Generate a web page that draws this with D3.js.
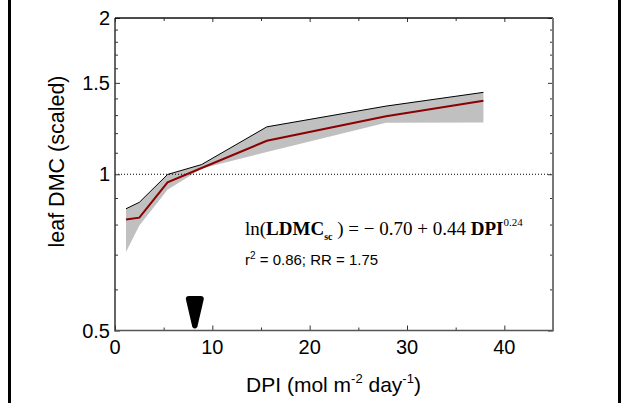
<!DOCTYPE html>
<html><head><meta charset="utf-8">
<script src="https://cdn.jsdelivr.net/npm/d3@7"></script>
<style>body{margin:0;background:#fff}svg{display:block}</style>
</head><body>
<svg id="c" width="622" height="403"></svg>
<script>
// Data
const dpi   = [1.13, 2.5, 5.4, 8.9, 15.6, 27.85, 37.85];
const fit   = [0.818, 0.825, 0.965, 1.028, 1.16, 1.294, 1.385];
const upper = [0.858, 0.883, 0.999, 1.044, 1.234, 1.353, 1.438];
const lower = [0.708, 0.797, 0.934, 1.026, 1.104, 1.256, 1.258];
const markerDPI = [8.2];
const xTicks = [0, 10, 20, 30, 40];
const xMinor = [5, 15, 25, 35, 45];
const yTicks = [0.5, 1, 1.5, 2];
const yMinor = [0.6, 0.7, 0.8, 0.9, 1.1, 1.2, 1.3, 1.4, 1.6, 1.7, 1.8, 1.9];

const svg = d3.select("#c");
const L = 115, R = 553, T = 18, B = 330.5;
const x = d3.scaleLinear().domain([0, 45]).range([L, R]);
const y = d3.scaleLog().domain([0.5, 2]).range([B, T]);
const sans = "'Liberation Sans', Arial, sans-serif";
const serif = "'Liberation Serif', 'Times New Roman', serif";

// outer frame lines
svg.append("line").attr("x1", 9.5).attr("x2", 9.5).attr("y1", 0).attr("y2", 403).attr("stroke", "#000").attr("stroke-width", 3);
svg.append("line").attr("x1", 619.5).attr("x2", 619.5).attr("y1", 0).attr("y2", 403).attr("stroke", "#000").attr("stroke-width", 3);

const pts = dpi.map((d, i) => ({x: d, f: fit[i], u: upper[i], l: lower[i]}));

// band
svg.append("path").datum(pts)
  .attr("d", d3.area().x(d => x(d.x)).y0(d => y(d.l)).y1(d => y(d.u)))
  .attr("fill", "#c0c0c0");
// upper line
svg.append("path").datum(pts)
  .attr("d", d3.line().x(d => x(d.x)).y(d => y(d.u)))
  .attr("fill", "none").attr("stroke", "#000").attr("stroke-width", 1);
// dotted reference line at 1
svg.append("line").attr("x1", L).attr("x2", R).attr("y1", y(1)).attr("y2", y(1))
  .attr("stroke", "#000").attr("stroke-width", 1).attr("stroke-dasharray", "1,2");
// fit line
svg.append("path").datum(pts)
  .attr("d", d3.line().x(d => x(d.x)).y(d => y(d.f)))
  .attr("fill", "none").attr("stroke", "#8b0000").attr("stroke-width", 2);

// axes (ticks inward)
const axL = svg.append("g").attr("transform", `translate(${L},0)`)
  .call(d3.axisRight(y).tickValues(yTicks).tickSize(5).tickFormat(""));
const axLm = svg.append("g").attr("transform", `translate(${L},0)`)
  .call(d3.axisRight(y).tickValues(yMinor).tickSize(3).tickFormat(""));
const axR = svg.append("g").attr("transform", `translate(${R},0)`)
  .call(d3.axisLeft(y).tickValues(yTicks).tickSize(5).tickFormat(""));
const axRm = svg.append("g").attr("transform", `translate(${R},0)`)
  .call(d3.axisLeft(y).tickValues(yMinor).tickSize(3).tickFormat(""));
const axB = svg.append("g").attr("transform", `translate(0,${B})`)
  .call(d3.axisTop(x).tickValues(xTicks).tickSize(5).tickFormat(""));
const axBm = svg.append("g").attr("transform", `translate(0,${B})`)
  .call(d3.axisTop(x).tickValues(xMinor).tickSize(3).tickFormat(""));
const axT = svg.append("g").attr("transform", `translate(0,${T})`)
  .call(d3.axisBottom(x).tickValues(xTicks).tickSize(4).tickFormat(""));
const axTm = svg.append("g").attr("transform", `translate(0,${T})`)
  .call(d3.axisBottom(x).tickValues(xMinor).tickSize(3).tickFormat(""));
svg.selectAll(".tick line").attr("stroke", "#333");
svg.selectAll("path.domain").remove();
svg.append("line").attr("x1", L).attr("x2", L).attr("y1", T).attr("y2", B + 1).attr("stroke", "#333").attr("stroke-width", 1.5);
svg.append("line").attr("x1", L).attr("x2", R).attr("y1", T).attr("y2", T).attr("stroke", "#111").attr("stroke-width", 1.5);
svg.append("line").attr("x1", L).attr("x2", R + 1).attr("y1", B).attr("y2", B).attr("stroke", "#555").attr("stroke-width", 1.5);
svg.append("line").attr("x1", R).attr("x2", R).attr("y1", T).attr("y2", B).attr("stroke", "#777").attr("stroke-width", 2);

// tick labels
svg.append("g").selectAll("text").data(yTicks).join("text")
  .attr("x", L - 5).attr("y", d => y(d) + 7).attr("text-anchor", "end")
  .attr("font-family", sans).attr("font-size", 20).text(d => d);
svg.append("g").selectAll("text").data(xTicks).join("text")
  .attr("x", d => x(d)).attr("y", B + 23.5).attr("text-anchor", "middle")
  .attr("font-family", sans).attr("font-size", 20).text(d => d);

// axis titles
svg.append("text").attr("transform", `translate(64,161.5) rotate(-90)`)
  .attr("text-anchor", "middle").attr("font-family", sans).attr("font-size", 21.5)
  .text("leaf DMC (scaled)");
const xt = svg.append("text").attr("x", 333.5).attr("y", 391.5).attr("text-anchor", "middle")
  .attr("font-family", sans).attr("font-size", 21);
xt.append("tspan").text("DPI (mol m");
xt.append("tspan").attr("font-size", 13).attr("dy", -9).text("-2");
xt.append("tspan").attr("dy", 9).text(" day");
xt.append("tspan").attr("font-size", 13).attr("dy", -9).text("-1");
xt.append("tspan").attr("dy", 9).text(")");

// marker arrow
const mx = x(markerDPI[0]);
svg.append("path")
  .attr("d", `M${mx-9},${299} Q${mx-9},${296} ${mx-6},${296} L${mx+6},${296} Q${mx+9},${296} ${mx+9},${299} L${mx+2.5},${327} Q${mx},${330} ${mx-2.5},${327} Z`)
  .attr("fill", "#000");

// equation
const eq = svg.append("text").attr("x", 245).attr("y", 235).attr("font-family", serif).attr("font-size", 19);
eq.append("tspan").text("ln(");
eq.append("tspan").attr("font-weight", "bold").text("LDMC");
eq.append("tspan").attr("font-weight", "bold").attr("font-size", 10).attr("dy", 5).text("sc");
eq.append("tspan").attr("dy", -5).text(" ) = \u2212 0.70 + 0.44 ");
eq.append("tspan").attr("font-weight", "bold").text("DPI");
eq.append("tspan").attr("font-size", 11).attr("dy", -9).text("0.24");

const r2 = svg.append("text").attr("x", 245).attr("y", 265).attr("font-family", sans).attr("font-size", 15);
r2.append("tspan").text("r");
r2.append("tspan").attr("font-size", 10).attr("dy", -6).text("2");
r2.append("tspan").attr("dy", 6).text(" = 0.86; RR = 1.75");
</script>
</body></html>
